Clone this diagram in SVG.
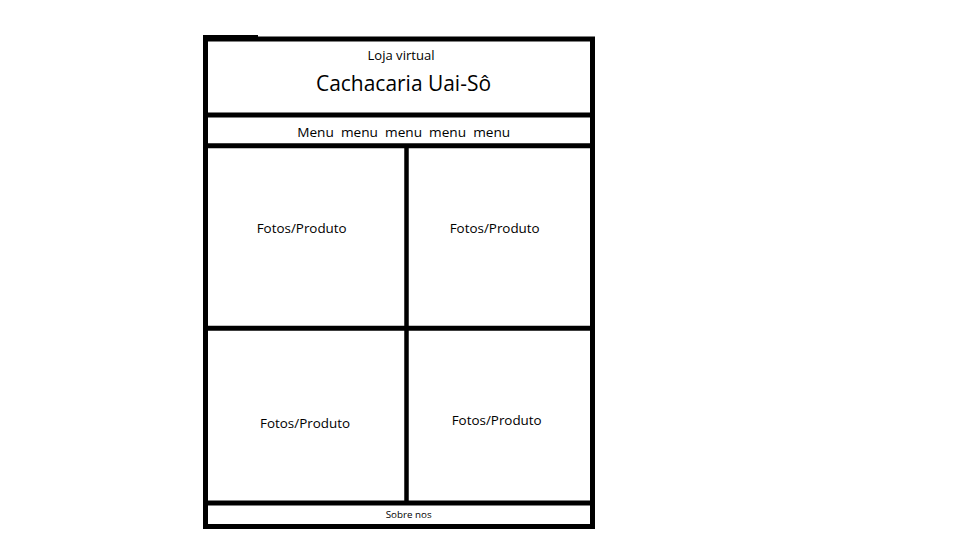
<svg xmlns="http://www.w3.org/2000/svg" width="960" height="540" viewBox="0 0 960 540">
  <style>
    .ln { stroke: #000; stroke-width: 5; fill: none; }
    .vl { stroke: #000; stroke-width: 4.5; fill: none; }
    .t { font-family: "Open Sans", "Liberation Sans", sans-serif; fill: #000; text-anchor: middle; white-space: pre; }
  </style>
  <rect x="0" y="0" width="960" height="540" fill="#fff"/>
  <g id="frame">
    <rect class="ln" x="205.5" y="39" width="387" height="487.5"/>
    <rect x="203" y="35" width="55" height="2" fill="#000"/>
  </g>
  <g id="connectors">
    <line class="ln" x1="205.5" y1="115" x2="592.5" y2="115"/>
    <line class="ln" x1="205.5" y1="145.8" x2="592.5" y2="145.8"/>
    <line class="ln" x1="205.5" y1="328.3" x2="592.5" y2="328.3"/>
    <line class="ln" x1="205.5" y1="503" x2="592.5" y2="503"/>
    <line class="vl" x1="406.5" y1="145.8" x2="406.5" y2="503"/>
  </g>
  <g id="header">
    <text class="t" x="401" y="59.5" font-size="13" textLength="67" lengthAdjust="spacingAndGlyphs">Loja virtual</text>
    <text class="t" x="403.5" y="91" font-size="21" textLength="175" lengthAdjust="spacingAndGlyphs">Cachacaria Uai-Sô</text>
  </g>
  <g id="menu">
    <text class="t" x="403.7" y="137" font-size="13" textLength="213" lengthAdjust="spacingAndGlyphs">Menu  menu  menu  menu  menu</text>
  </g>
  <g id="produto1">
    <text class="t" x="301.7" y="232.7" font-size="13" textLength="90" lengthAdjust="spacingAndGlyphs">Fotos/Produto</text>
  </g>
  <g id="produto2">
    <text class="t" x="494.7" y="232.7" font-size="13" textLength="90" lengthAdjust="spacingAndGlyphs">Fotos/Produto</text>
  </g>
  <g id="produto3">
    <text class="t" x="305" y="428.3" font-size="13" textLength="90" lengthAdjust="spacingAndGlyphs">Fotos/Produto</text>
  </g>
  <g id="produto4">
    <text class="t" x="496.7" y="424.5" font-size="13" textLength="90" lengthAdjust="spacingAndGlyphs">Fotos/Produto</text>
  </g>
  <g id="footer">
    <text class="t" x="408.7" y="517.7" font-size="9" textLength="46" lengthAdjust="spacingAndGlyphs">Sobre nos</text>
  </g>
</svg>
